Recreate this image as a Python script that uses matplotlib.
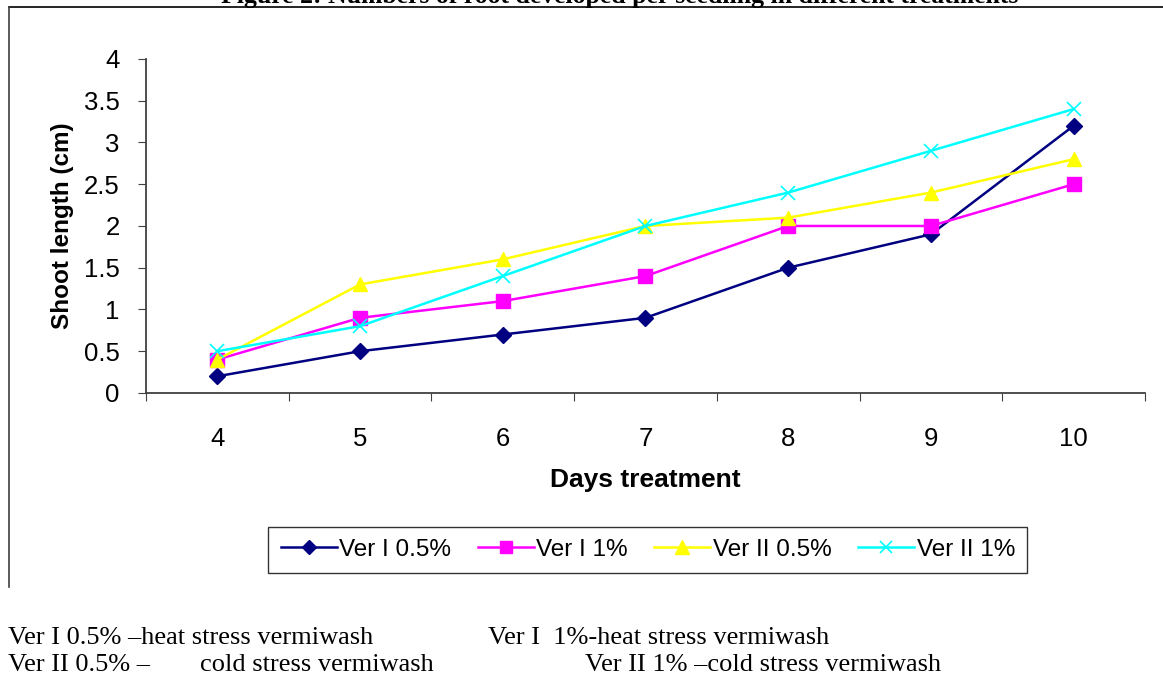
import numpy as np
import matplotlib.pyplot as plt
from matplotlib.lines import Line2D

# --- data ---
days = [4, 5, 6, 7, 8, 9, 10]
ver1_05 = [0.2, 0.5, 0.7, 0.9, 1.5, 1.9, 3.2]
ver1_1 = [0.4, 0.9, 1.1, 1.4, 2.0, 2.0, 2.5]
ver2_05 = [0.4, 1.3, 1.6, 2.0, 2.1, 2.4, 2.8]
ver2_1 = [0.5, 0.8, 1.4, 2.0, 2.4, 2.9, 3.4]
labels = ['Ver I 0.5%', 'Ver I 1%', 'Ver II 0.5%', 'Ver II 1%']

sans = ['Liberation Sans', 'DejaVu Sans']
serif = ['Liberation Serif', 'DejaVu Serif']

fig = plt.figure(figsize=(11.63, 6.78), dpi=100)
ax = fig.add_axes([0.1255, 0.4204, 0.8590, 0.4926])

x = np.arange(len(days))
ax.plot(x, ver1_05, color='#000080', marker='D', markersize=8, lw=1.8, label=labels[0])
ax.plot(x, ver1_1, color='#FF00FF', marker='s', markersize=9.5, lw=1.8, label=labels[1])
ax.plot(x, ver2_05, color='#FFFF00', marker='^', markersize=10.5, lw=1.8, label=labels[2])
ax.plot(x, ver2_1, color='#00FFFF', marker='x', markersize=10, mew=1.2, lw=1.8, label=labels[3])

ax.set_xlim(-0.5, len(days) - 0.5)
ax.set_ylim(0, 4)
ax.set_yticks(np.arange(0, 4.01, 0.5))
ax.set_yticklabels(['0', '0.5', '1', '1.5', '2', '2.5', '3', '3.5', '4'], family=sans, fontsize=18.5)
ax.set_xticks(np.arange(-0.5, len(days), 1))
ax.set_xticklabels([])
ax.set_xticks(x, minor=True)
ax.set_xticklabels([str(d) for d in days], minor=True, family=sans, fontsize=18.5)
ax.tick_params(axis='x', which='minor', length=0, pad=24.5)
ax.tick_params(axis='x', which='major', length=6, direction='out', color='#404040')
ax.tick_params(axis='y', length=6, direction='out', color='#404040', pad=13)

for s in ['top', 'right']:
    ax.spines[s].set_visible(False)
for s in ['left', 'bottom']:
    ax.spines[s].set_color('#404040')
    ax.spines[s].set_linewidth(1.3)

ax.set_xlabel('Days treatment', family=sans, fontsize=19, fontweight='bold', labelpad=12)
ax.set_ylabel('Shoot length (cm)', family=sans, fontsize=17.5, fontweight='bold', labelpad=7)

leg = fig.legend(loc='center', bbox_to_anchor=(0.557, 0.189), ncol=4, frameon=True,
                 fancybox=False, edgecolor='black', prop={'family': sans, 'size': 17.5},
                 handlelength=2.3, handletextpad=0.1, columnspacing=1.1,
                 borderpad=0.5, markerscale=0.9)
leg.get_frame().set_linewidth(1.0)

# outer chart frame (top and left edges visible)
fig.add_artist(Line2D([0.0077, 1.0], [0.9897, 0.9897], transform=fig.transFigure, color='black', lw=1.2))
fig.add_artist(Line2D([0.0077, 0.0077], [0.134, 0.9897], transform=fig.transFigure, color='#404040', lw=1.2))

# cut-off caption at the top
fig.text(0.533, 0.9956, 'Figure 2: Numbers of root developed per seedling in different treatments',
         ha='center', va='baseline', family=serif, fontsize=18.5, fontweight='bold')

# footnotes
fig.text(0.007, 0.059, 'Ver I 0.5% \u2013heat stress vermiwash', family=serif, fontsize=19, va='center')
fig.text(0.420, 0.059, 'Ver I  1%-heat stress vermiwash', family=serif, fontsize=19, va='center')
fig.text(0.007, 0.019, 'Ver II 0.5% \u2013', family=serif, fontsize=19, va='center')
fig.text(0.172, 0.019, 'cold stress vermiwash', family=serif, fontsize=19, va='center')
fig.text(0.503, 0.019, 'Ver II 1% \u2013cold stress vermiwash', family=serif, fontsize=19, va='center')

fig.savefig('out.png', dpi=100)
